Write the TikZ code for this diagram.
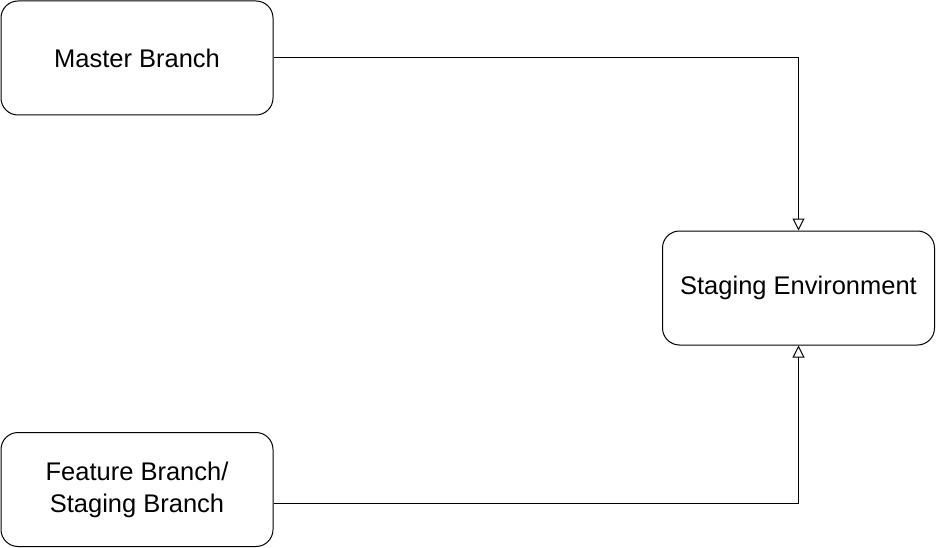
\documentclass[tikz,border=0pt]{standalone}
\usepackage{fontspec}
\setmainfont{Liberation Sans}
\usetikzlibrary{arrows.meta}

\begin{document}
\begin{tikzpicture}[x=1pt,y=-1pt,
  branchbox/.style={draw,line width=1pt,rounded corners=17pt,minimum width=272pt,minimum height=114pt,align=center,font=\fontsize{25.5}{32}\selectfont,inner sep=0pt},
  flow/.style={line width=1pt,-{Triangle[open,length=12pt,width=12pt]}}]
\useasboundingbox (0,0) rectangle (936,548);
\node[branchbox] (master) at (137,58){Master Branch};
\node[branchbox] (staging) at (798.5,288){Staging Environment};
\node[branchbox] (feature) at (137,489.5){Feature Branch/\\Staging Branch};
\draw[flow] (master.east) -| (staging.north);
\draw[flow] ([yshift=-13.5pt]feature.east) -| (staging.south);
\end{tikzpicture}
\end{document}
